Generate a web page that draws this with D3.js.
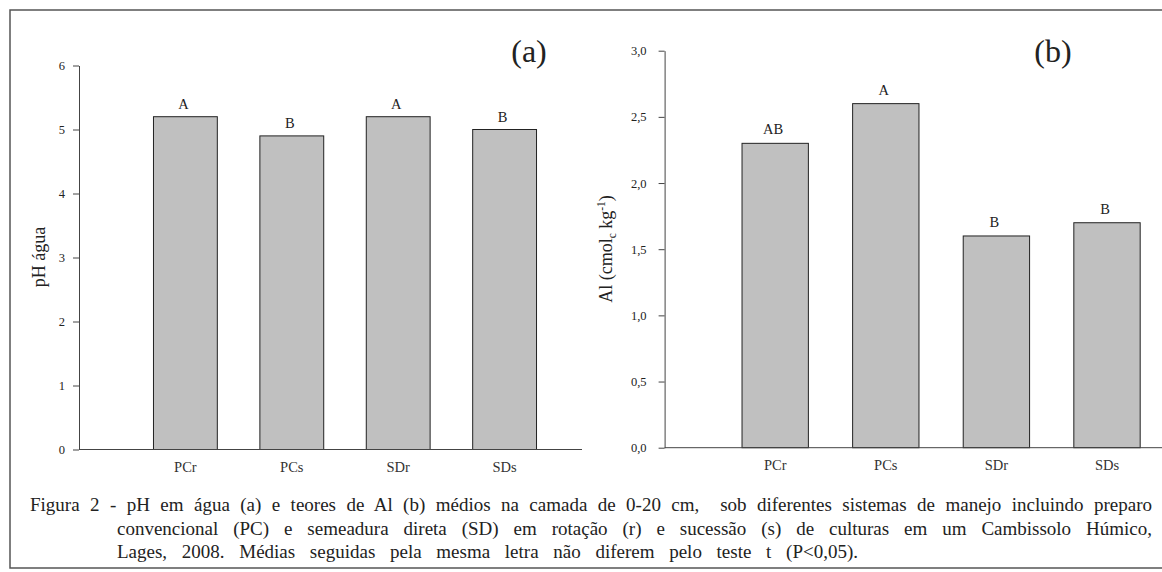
<!DOCTYPE html>
<html><head><meta charset="utf-8">
<script src="https://cdn.jsdelivr.net/npm/d3@7"></script>
<style>
html,body{margin:0;padding:0;background:#fff;}
svg{display:block;}
</style></head>
<body>
<svg id="chart" width="1162" height="572"></svg>
<script>
const categories = ["PCr", "PCs", "SDr", "SDs"];
const phValues = [5.2, 4.9, 5.2, 5.0];
const phLetters = ["A", "B", "A", "B"];
const alValues = [2.3, 2.6, 1.6, 1.7];
const alLetters = ["AB", "A", "B", "B"];
const phTicks = [0, 1, 2, 3, 4, 5, 6];
const alTicks = [0, 0.5, 1.0, 1.5, 2.0, 2.5, 3.0];
const captionLines = [
  "Figura 2 - pH em água (a) e teores de Al (b) médios na camada de 0-20 cm,  sob diferentes sistemas de manejo incluindo preparo",
  "convencional (PC) e semeadura direta (SD) em rotação (r) e sucessão (s) de culturas em um Cambissolo Húmico,",
  "Lages, 2008. Médias seguidas pela mesma letra não diferem pelo teste t (P<0,05)."
];

const FONT = '"Liberation Serif", "Times New Roman", serif';
const svg = d3.select("#chart").attr("font-family", FONT);
const ink = "#222";

// frame
svg.append("rect").attr("x", 10).attr("y", 10).attr("width", 1160).attr("height", 558)
  .attr("fill", "none").attr("stroke", "#555").attr("stroke-width", 1.5);

function panel(cfg) {
  const g = svg.append("g");
  const y = d3.scaleLinear().domain(cfg.domain).range([cfg.y0, cfg.y1]);
  const step = cfg.step;
  const x = d3.scaleBand().domain(categories)
    .range([cfg.ax + step * 0.5, cfg.ax + step * 4.5]).paddingInner(0.4).paddingOuter(0.2);

  const ya = g.append("g").attr("transform", `translate(${cfg.ax},0)`)
    .call(d3.axisLeft(y).tickValues(cfg.ticks).tickSize(6).tickSizeOuter(0)
      .tickPadding(cfg.pad).tickFormat(cfg.fmt));
  ya.attr("font-family", FONT);
  ya.selectAll("path,line").attr("stroke", "#444");
  ya.selectAll("text").attr("font-size", 12.5).attr("fill", ink);

  g.selectAll("rect.bar").data(cfg.values).join("rect").attr("class", "bar")
    .attr("x", (d, i) => x(categories[i]))
    .attr("y", d => y(d))
    .attr("width", x.bandwidth())
    .attr("height", d => y(0) - y(d))
    .attr("fill", "#c0c0c0").attr("stroke", "#222").attr("stroke-width", 1);

  g.append("line").attr("x1", cfg.ax).attr("x2", cfg.xEnd)
    .attr("y1", y(0)).attr("y2", y(0)).attr("stroke", "#444").attr("stroke-width", 1);
  const xa = g.append("g").attr("transform", `translate(0,${y(0)})`)
    .call(d3.axisBottom(x).tickSize(0).tickPadding(12));
  xa.attr("font-family", FONT);
  xa.select(".domain").remove();
  xa.selectAll("text").attr("font-size", 14.5).attr("fill", "#333");

  g.selectAll("text.lt").data(cfg.letters).join("text").attr("class", "lt")
    .attr("x", (d, i) => x(categories[i]) + x.bandwidth() / 2 - 2)
    .attr("y", (d, i) => y(cfg.values[i]) - cfg.lgap)
    .attr("text-anchor", "middle").attr("font-size", 14.5).attr("fill", ink).text(d => d);

  g.append("text").attr("x", cfg.plx).attr("y", 62).attr("text-anchor", "middle")
    .attr("font-size", 32).attr("fill", ink).text(cfg.panel);
  return {g, y, x};
}

const pa = panel({
  domain: [0, 6], y0: 449.5, y1: 65.5, ax: 79, step: 106.4, xEnd: 582,
  ticks: phTicks, fmt: d3.format("d"), pad: 8, values: phValues, letters: phLetters,
  lgap: 8, panel: "(a)", plx: 529
});
pa.g.append("text").attr("transform", "translate(45,257) rotate(-90)")
  .attr("text-anchor", "middle").attr("font-size", 18).attr("fill", ink).text("pH água");

const pb = panel({
  domain: [0, 3], y0: 447.7, y1: 50.7, ax: 664.6, step: 110.6, xEnd: 1170,
  ticks: alTicks, fmt: d => d3.format(".1f")(d).replace(".", ","), pad: 12,
  values: alValues, letters: alLetters, lgap: 9, panel: "(b)", plx: 1053
});
const alLab = pb.g.append("text").attr("transform", "translate(612,249) rotate(-90)")
  .attr("text-anchor", "middle").attr("font-size", 18).attr("fill", ink);
alLab.append("tspan").text("Al (cmol");
alLab.append("tspan").attr("font-size", 11.5).attr("dy", 4).text("c");
alLab.append("tspan").attr("dy", -4).text(" kg");
alLab.append("tspan").attr("font-size", 11.5).attr("dy", -7).text("-1");
alLab.append("tspan").attr("dy", 7).text(")");

const capSpec = [
  {x0: 30, x1: 1152, y: 511},
  {x0: 117, x1: 1152, y: 535},
  {x0: 117, x1: 858, y: 558}
];
captionLines.forEach((line, i) => {
  const s = capSpec[i];
  const t = svg.append("text").attr("x", s.x0).attr("y", s.y)
    .attr("font-size", 19).attr("fill", ink)
    .style("white-space", "pre").text(line);
  const w = t.node().getComputedTextLength();
  const spaces = (line.match(/ /g) || []).length;
  const extra = Math.max(0, (s.x1 - s.x0 - w) / spaces);
  t.attr("word-spacing", extra);
});
</script>
</body></html>
